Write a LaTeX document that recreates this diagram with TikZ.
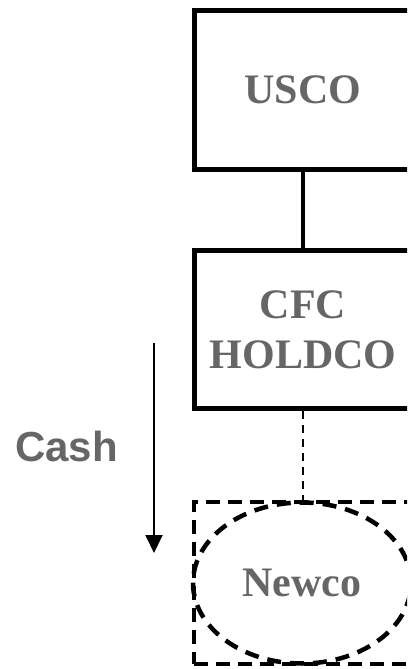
\documentclass[tikz,border=0pt]{standalone}
\usepackage{fontspec}
\setmainfont{Liberation Serif}
\setsansfont{Liberation Sans}
\usetikzlibrary{shapes.geometric,arrows.meta}
\definecolor{txtgray}{RGB}{102,102,102}
\begin{document}
\begin{tikzpicture}[x=1pt,y=-1pt,
  entity/.style={draw=black, line width=5pt, rectangle, minimum width=218pt, minimum height=158.5pt, inner sep=0pt,
    text=txtgray, font=\fontsize{42}{50}\selectfont\bfseries, align=center},
  dashbox/.style={draw=black, line width=4.5pt, dash pattern=on 14pt off 8pt, rectangle, minimum width=218pt, minimum height=162pt, inner sep=0pt},
  dashell/.style={draw=black, line width=4.5pt, dash pattern=on 14pt off 9pt, ellipse, minimum width=218pt, minimum height=161pt, inner sep=0pt,
    text=txtgray, font=\fontsize{42}{50}\selectfont\bfseries},
  solidlink/.style={draw=black, line width=3.5pt},
  dashlink/.style={draw=black, line width=2.5pt, dash pattern=on 8pt off 6pt},
  flow/.style={draw=black, line width=2pt, -{Triangle[width=17pt,length=18pt]}},
  lbl/.style={text=txtgray, font=\fontsize{42}{50}\selectfont\sffamily\bfseries}
]
\useasboundingbox (0,0) rectangle (407,669);
\clip (0,0) rectangle (407,669);
\node[entity] (usco) at (303,90) {USCO};
\node[entity] (cfc) at (303,329.5) {CFC\\HOLDCO};
\node[dashbox] (nbox) at (303,583) {};
\node[dashell] (newco) at (302,583) {Newco};
\draw[solidlink] (usco.south) -- (cfc.north);
\draw[dashlink] (cfc.south) -- (nbox.north);
\coordinate (c1) at (154,343);
\coordinate (c2) at (154,553);
\draw[flow] (c1) -- (c2);
\node[lbl] (cash) at (66.5,446) {Cash};
\end{tikzpicture}
\end{document}
